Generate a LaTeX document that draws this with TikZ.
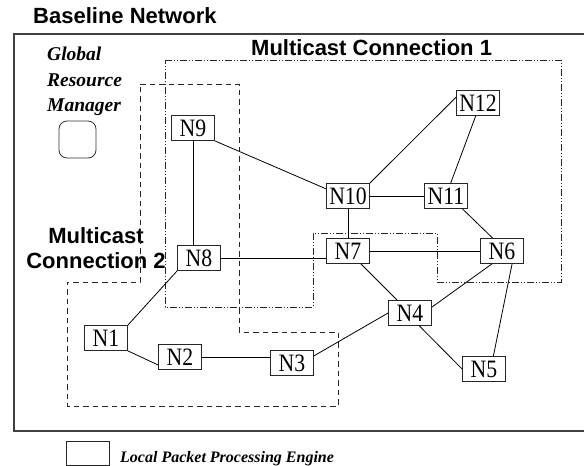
\documentclass[tikz,border=0pt]{standalone}
\usepackage{fontspec}
\setmainfont{Liberation Serif}
\newfontfamily\hsans{Liberation Sans}
\usetikzlibrary{calc}
\newcommand\nodelab[1]{\scalebox{0.87}[1]{#1}}
\begin{document}
\begin{tikzpicture}[x=1pt,y=-1pt,
  nd/.style={draw=black!85, line width=0.8pt, fill=white, minimum width=43pt, minimum height=25pt, inner sep=0pt, font=\fontsize{25}{25}\selectfont},
  ln/.style={line width=0.8pt, black},
  lbl/.style={inner sep=0pt, anchor=base west},
  ttl/.style={lbl, font=\hsans\bfseries\fontsize{22}{22}\selectfont},
  gtext/.style={lbl, font=\bfseries\itshape\fontsize{19.5}{19.5}\selectfont},
  mcone/.style={line width=0.8pt, black!85, dash pattern=on 7pt off 2pt on 1pt off 2pt on 1pt off 2pt},
  mctwo/.style={line width=0.8pt, black!85, dash pattern=on 5.5pt off 4pt}
]
\useasboundingbox (0,0) rectangle (584,466);
% outer box
\draw[line width=1.4pt, black!75] (14,34) rectangle (590,431);
% titles
\node[ttl] (tbase) at (33,23) {Baseline Network};
\node[ttl] (tmc1) at (251,55) {Multicast Connection 1};
\node[inner sep=0pt, align=center, font=\hsans\bfseries\fontsize{22}{25}\selectfont, anchor=base] (tmc2) at (96,268) {Multicast\\Connection 2};
% global resource manager
\node[gtext] (g1) at (47,60) {Global};
\node[gtext] (g2) at (47,86) {Resource};
\node[gtext] (g3) at (47,111) {Manager};
\draw[black!80, line width=0.8pt, rounded corners=8pt] (59,121) rectangle (96,158);
% multicast regions
\draw[mcone] (165,60) -- (561,60) -- (561,282) -- (437,282) -- (437,233) -- (313,233) -- (313,307) -- (165,307) -- cycle;
\draw[mctwo] (140,84) -- (239,84) -- (239,332) -- (338,332) -- (338,406) -- (67,406) -- (67,282) -- (140,282) -- cycle;
% nodes
\node[nd] (N9) at (193,128) {\nodelab{N9}};
\node[nd] (N8) at (199,258) {\nodelab{N8}};
\node[nd] (N1) at (106,338) {\nodelab{N1}};
\node[nd] (N2) at (180,357) {\nodelab{N2}};
\node[nd] (N3) at (292,363) {\nodelab{N3}};
\node[nd] (N4) at (410,313) {\nodelab{N4}};
\node[nd] (N5) at (484,369) {\nodelab{N5}};
\node[nd] (N6) at (502,251) {\nodelab{N6}};
\node[nd] (N7) at (348,251) {\nodelab{N7}};
\node[nd] (N10) at (348,196) {\nodelab{N10}};
\node[nd] (N11) at (446,196) {\nodelab{N11}};
\node[nd] (N12) at (478,103) {\nodelab{N12}};
% links
\draw[ln] (N9.south) -- (N9.south |- N8.north);
\draw[ln] (N9.south east) -- (N10.162);
\draw[ln] (N10.north east) -- (N12.165);
\draw[ln] (N10.east) -- (N11.west);
\draw[ln] (N10.south) -- (N7.north);
\draw[ln] (N11.70) -- (N12.-100);
\draw[ln] (N11.-38) -- (N6.126);
\draw[ln] (N7.east) -- (N6.west);
\draw[ln] (N8.east) -- (N8.east -| N7.west);
\draw[ln] (N7) -- (N4);
\draw[ln] (N4.15) -- (N6.-128);
\draw[ln] (N6.-52) -- (N5.54);
\draw[ln] (N4.-54) -- (N5.west);
\draw[ln] (N3.18) -- (N4.west);
\draw[ln] (N2.east) -- (N2.east -| N3.west);
\draw[ln] (N1.south east) -- (N2.200);
\draw[ln] (N1.north east) -- (N8.south west);
% legend
\node[draw=black!85, line width=0.8pt, minimum width=43pt, minimum height=24pt, inner sep=0pt] (leg) at (88,453) {};
\node[lbl, font=\bfseries\itshape\fontsize{16}{16}\selectfont] (legt) at (120,462) {Local Packet Processing Engine};
\end{tikzpicture}
\end{document}
